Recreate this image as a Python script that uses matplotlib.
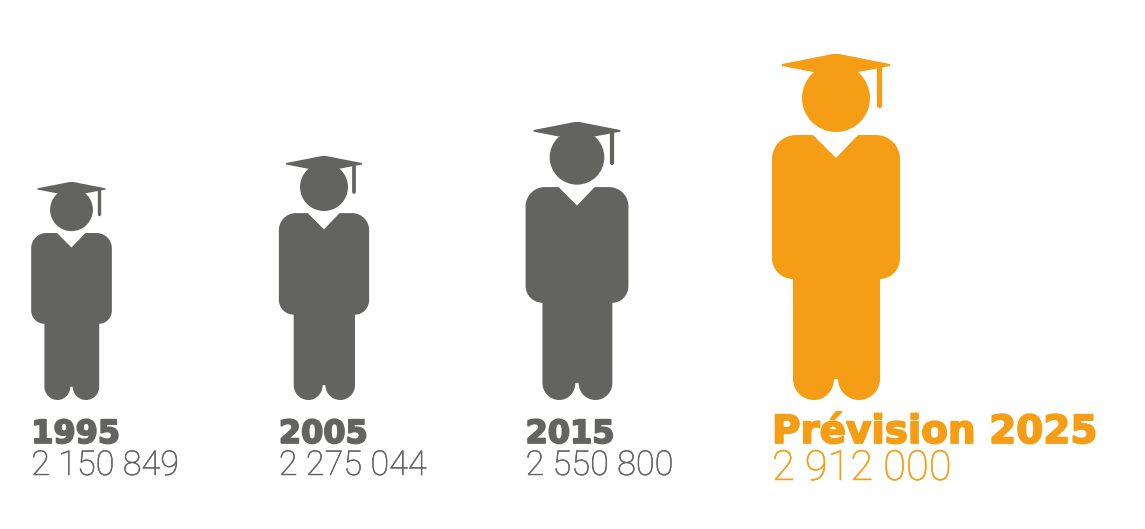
import matplotlib
matplotlib.use('Agg')
import matplotlib.pyplot as plt
import matplotlib.patheffects as pe
from matplotlib.patches import Circle, PathPatch
from matplotlib.path import Path
from matplotlib.transforms import Affine2D

years = ['1995', '2005', '2015', 'Prévision 2025']
students = ['2 150 849', '2 275 044', '2 550 800', '2 912 000']
heights = [218, 244, 278, 346]
centers = [71.5, 324, 577, 836]
colors = ['#636361', '#636361', '#636361', '#F59E15']

GROUND = 400
K = 0.5523


# round corner from p0 to p1 around corner point c
def corner(p0, c, p1):
    c1 = (p0[0] + K * (c[0] - p0[0]), p0[1] + K * (c[1] - p0[1]))
    c2 = (p1[0] + K * (c[0] - p1[0]), p1[1] + K * (c[1] - p1[1]))
    return [(Path.CURVE4, c1), (Path.CURVE4, c2), (Path.CURVE4, p1)]


# outline of the big figure, relative to its centre and the ground line
def body_path():
    s = [(Path.MOVETO, (-23, -265)), (Path.LINETO, (0, -242)), (Path.LINETO, (22, -265)),
         (Path.LINETO, (40, -265))]
    s += corner((40, -265), (64, -265), (64, -241))
    s += [(Path.LINETO, (64, -142))]
    s += corner((64, -142), (64, -121), (44, -121))
    s += [(Path.LINETO, (44, -21))]
    s += corner((44, -21), (44, 0), (23, 0))
    s += corner((23, 0), (2, 0), (2, -21))
    s += [(Path.LINETO, (-2, -21))]
    s += corner((-2, -21), (-2, 0), (-22, 0))
    s += corner((-22, 0), (-43, 0), (-43, -21))
    s += [(Path.LINETO, (-43, -121))]
    s += corner((-43, -121), (-64, -121), (-64, -142))
    s += [(Path.LINETO, (-64, -241))]
    s += corner((-64, -241), (-64, -265), (-40, -265))
    s += [(Path.LINETO, (-23, -265)), (Path.CLOSEPOLY, (-23, -265))]
    return Path([p for _, p in s], [c for c, _ in s])


def hat_path():
    verts = [(-54, -336), (-3, -346), (3, -346), (54, -336), (54, -334), (22, -328), (-23, -328),
             (-54, -334), (-54, -336)]
    codes = [Path.MOVETO] + [Path.LINETO] * 7 + [Path.CLOSEPOLY]
    return Path(verts, codes)


fig = plt.figure(figsize=(11.45, 5.29), dpi=100)
ax = fig.add_axes([0, 0, 1, 1])
ax.set_xlim(0, 1145)
ax.set_ylim(529, 0)
ax.axis('off')

for i in range(len(years)):
    scale = heights[i] / 346
    cx = centers[i]
    tr = Affine2D().scale(scale).translate(cx, GROUND) + ax.transData
    ax.add_patch(PathPatch(body_path(), fc=colors[i], ec='none', transform=tr))
    ax.add_patch(PathPatch(hat_path(), fc=colors[i], ec='none', transform=tr))
    ax.add_patch(Circle((0, -302), 34, fc=colors[i], ec='none', transform=tr))
    # tassel
    ax.plot([43, 43], [-334, -295], color=colors[i], lw=3.8 * scale,
            solid_capstyle='round', transform=tr)

    left = cx - 64 * scale
    big = i == 3
    t = ax.text(left, 443, years[i], color=colors[i], fontsize=28 if big else 23,
                family='DejaVu Sans', weight='bold', va='baseline', ha='left')
    t.set_path_effects([pe.withStroke(linewidth=1.3, foreground=colors[i])])
    t = ax.text(left, 480 if big else 475, students[i], color=colors[i], fontsize=30 if big else 24.7,
                family='Roboto', weight='light', va='baseline', ha='left')
    t.set_path_effects([pe.withStroke(linewidth=0.35, foreground=colors[i])])

plt.savefig('out.png', dpi=100)
